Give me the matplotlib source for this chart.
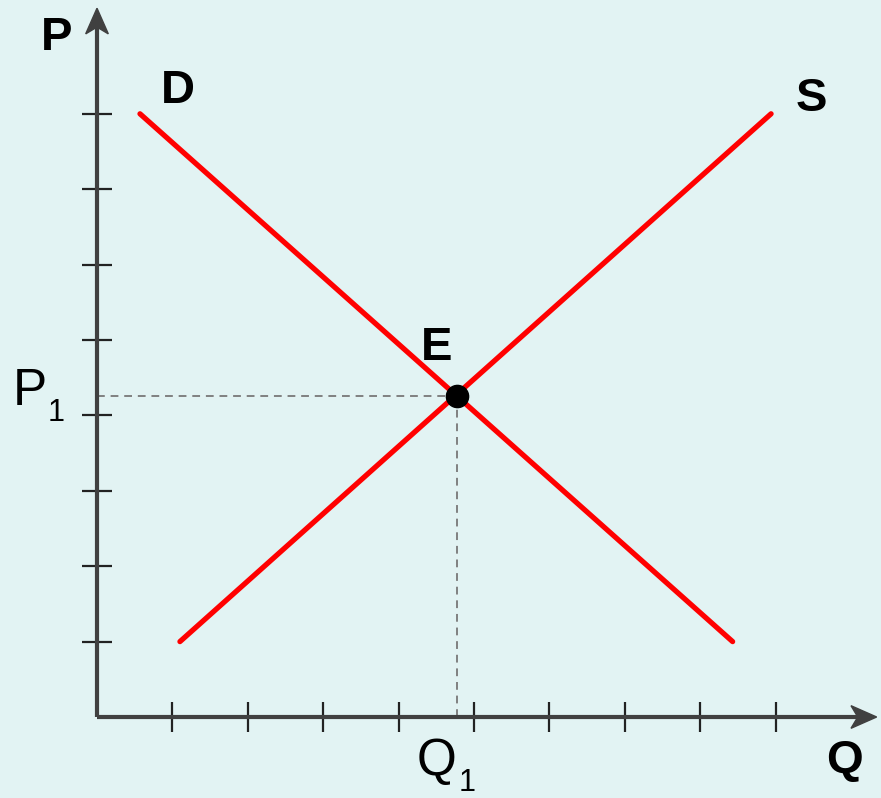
import matplotlib
matplotlib.use("Agg")
from matplotlib import pyplot as plt
from matplotlib.patches import Polygon

# chart values (axis units: one tick = 1)
demand_q = [0.57, 8.43]
demand_p = [8.0, 1.0]
supply_q = [1.1, 8.94]
supply_p = [1.0, 8.0]
eq_q, eq_p = 4.77, 4.26
x_ticks = list(range(1, 10))
y_ticks = list(range(1, 9))

bg = '#e2f3f3'
axis_col = '#404040'
red = '#ff0000'

fig = plt.figure(figsize=(8.81, 7.98), dpi=100)
fig.patch.set_facecolor(bg)
ax = fig.add_axes([0, 0, 1, 1])
ax.set_facecolor(bg)

scale = 75.4
ax.set_xlim(-97 / scale, 784 / scale)
ax.set_ylim(-81 / scale, 717 / scale)

for s in ['top', 'right']:
    ax.spines[s].set_visible(False)
ax.spines['left'].set_position(('data', 0))
ax.spines['bottom'].set_position(('data', 0))
ax.spines['left'].set_bounds(0, 9.2)
ax.spines['bottom'].set_bounds(0, 10.1)
for s in ['left', 'bottom']:
    ax.spines[s].set_color(axis_col)
    ax.spines[s].set_linewidth(3)
    ax.spines[s].set_capstyle('butt')

ax.set_xticks(x_ticks)
ax.set_yticks(y_ticks)
ax.tick_params(direction='inout', length=21.6, width=1.6, color='#222222',
               labelbottom=False, labelleft=False)

# arrow heads
def head(tip, direction):
    L, W, N = 0.34, 0.15, 0.25
    tx, ty = tip
    if direction == 'up':
        pts = [(tx, ty), (tx - W, ty - L), (tx, ty - N), (tx + W, ty - L)]
    else:
        pts = [(tx, ty), (tx - L, ty + W), (tx - N, ty), (tx - L, ty - W)]
    ax.add_patch(Polygon(pts, closed=True, color=axis_col, zorder=3))

head((0, 9.40), 'up')
head((10.34, 0), 'right')

# guide lines to equilibrium
ax.plot([0, eq_q], [eq_p, eq_p], ls=(0, (4, 3)), color='#808080', lw=1.4, zorder=2)
ax.plot([eq_q, eq_q], [0, eq_p], ls=(0, (4, 3)), color='#808080', lw=1.4, zorder=2)

ax.plot(demand_q, demand_p, color=red, lw=3.8, solid_capstyle='round', zorder=4)
ax.plot(supply_q, supply_p, color=red, lw=3.8, solid_capstyle='round', zorder=4)
ax.plot([eq_q], [eq_p], 'o', color='black', ms=16, zorder=5)

bold = dict(family='Liberation Sans', fontweight='bold', fontsize=34, color='black')
ax.text(-0.53, 9.0, 'P', ha='center', va='center', **bold)
ax.text(1.07, 8.3, 'D', ha='center', va='center', **bold)
ax.text(9.48, 8.2, 'S', ha='center', va='center', **bold)
ax.text(4.5, 4.9, 'E', ha='center', va='center', **bold)
ax.text(9.92, -0.58, 'Q', ha='center', va='center', **bold)

reg = dict(family='Liberation Sans', color='black')
ax.text(-1.12, 4.14, 'P', fontsize=37, ha='left', va='baseline', **reg)
ax.text(-0.65, 3.92, '1', fontsize=22, ha='left', va='baseline', **reg)
ax.text(4.24, -0.77, 'Q', fontsize=37, ha='left', va='baseline', **reg)
ax.text(4.8, -81 / scale, '1', fontsize=22, ha='left', va='bottom', **reg)

fig.savefig('out.png', dpi=100, facecolor=bg)
